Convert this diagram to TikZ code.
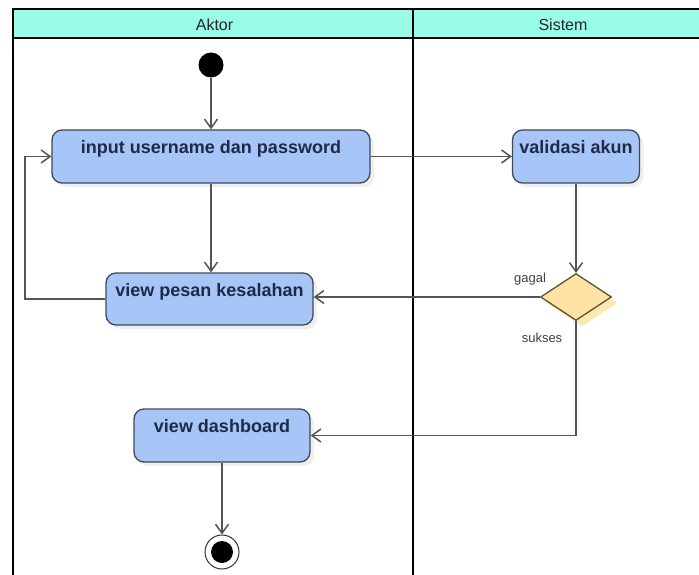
\documentclass[tikz,border=0pt]{standalone}
\usepackage{fontspec}
\setmainfont{Liberation Sans}
\usetikzlibrary{shapes.geometric,arrows.meta,shadows}

\definecolor{headfill}{HTML}{98FCE8}
\definecolor{actfill}{HTML}{A8C5F7}
\definecolor{actline}{HTML}{3E4858}
\definecolor{acttext}{HTML}{1D2A48}
\definecolor{decfill}{HTML}{FCE3A4}
\definecolor{decshade}{HTML}{FBEAB0}
\definecolor{decline}{HTML}{5E5230}
\definecolor{flow}{HTML}{555555}

\tikzset{
  frame/.style={line width=2pt, black},
  act/.style={draw=actline, line width=1.3pt, fill=actfill, rounded corners=10pt,
    inner sep=0pt, drop shadow={shadow xshift=4pt, shadow yshift=-4pt, fill=black!12}},
  acttitle/.style={anchor=base, inner sep=0pt, text=acttext,
    font=\fontsize{18}{20}\selectfont\bfseries},
  decision/.style={diamond, draw=decline, line width=1.3pt, fill=decfill, inner sep=0pt,
    minimum width=71pt, minimum height=47pt,
    drop shadow={shadow xshift=6pt, shadow yshift=-6pt, fill=decshade, opacity=1}},
  flowline/.style={draw=flow, line width=1.5pt, -{Straight Barb[length=9pt, width=13pt]}},
  plainflow/.style={draw=flow, line width=1.5pt},
  guard/.style={text=black!75, inner sep=0pt, font=\fontsize{13}{15}\selectfont},
  lanetitle/.style={inner sep=0pt, text=black!85, font=\fontsize{16}{18}\selectfont}
}

\begin{document}
\begin{tikzpicture}[x=1pt, y=-1pt]
  \useasboundingbox (0,0) rectangle (699,575);

  % swimlane frame
  \fill[headfill] (13,9.5) rectangle (705,38);
  \draw[frame] (705,9.5) -- (13,9.5) -- (13,585);
  \draw[frame] (13,38) -- (705,38);
  \draw[frame] (413,9.5) -- (413,585);
  \node[lanetitle] (laneA) at (214.5,25) {Aktor};
  \node[lanetitle] (laneS) at (563,25) {Sistem};

  % start and end
  \node[circle, fill=black, minimum size=25pt, inner sep=0pt] (start) at (211,65) {};
  \node[circle, draw=black!80, line width=1pt, fill=white, minimum size=34pt, inner sep=0pt] (stop) at (222,552) {};
  \node[circle, fill=black, minimum size=22pt, inner sep=0pt] (stopdot) at (222,552) {};

  % activities
  \node[act, minimum width=318pt, minimum height=53pt,
    label={[acttitle, yshift=-24.5pt]north:input username dan password}] (inp) at (211,156.5) {};
  \node[act, minimum width=207pt, minimum height=52pt,
    label={[acttitle, yshift=-24.5pt]north:view pesan kesalahan}] (pesan) at (209.5,299) {};
  \node[act, minimum width=127pt, minimum height=53pt,
    label={[acttitle, yshift=-24.5pt]north:validasi akun}] (val) at (576,156.5) {};
  \node[act, minimum width=176pt, minimum height=53pt,
    label={[acttitle, yshift=-24.5pt]north:view dashboard}] (dash) at (222,435.5) {};

  % decision
  \node[decision] (dec) at (576,297) {};
  \node[guard] (gagal) at (530,279) {gagal};
  \node[guard] (sukses) at (542,338) {sukses};

  % flows
  \coordinate (loopx) at (25,0);
  \draw[flowline] (start) -- (inp);
  \draw[flowline] (inp.south) -- (inp.south |- pesan.north);
  \draw[flowline] (pesan.west) -| (loopx |- inp.west) -- (inp.west);
  \draw[flowline] (inp.east) -- (val.west);
  \draw[flowline] (val.south) -- (dec.north);
  \draw[flowline] (dec.west) -- (dec.west -| pesan.east);
  \draw[flowline] (dec.south) |- (dash.east);
  \draw[flowline] (dash.south) -- (stop.north);
\end{tikzpicture}
\end{document}
